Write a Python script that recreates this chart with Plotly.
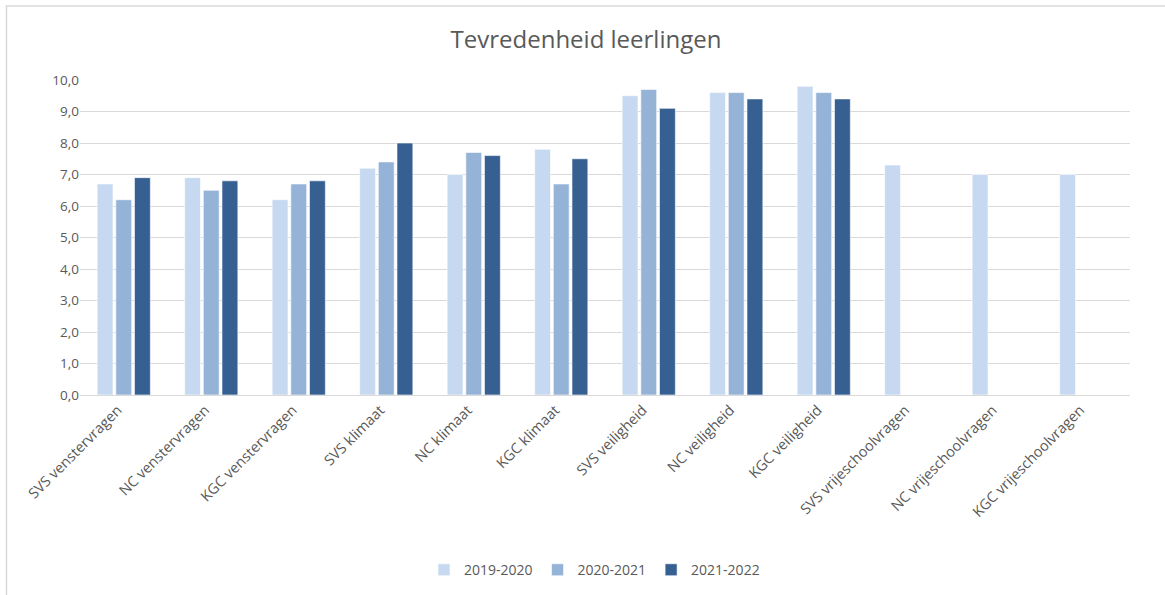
import plotly.graph_objects as go

categories = ["SVS venstervragen", "NC venstervragen", "KGC venstervragen",
              "SVS klimaat", "NC klimaat", "KGC klimaat",
              "SVS veiligheid", "NC veiligheid", "KGC veiligheid",
              "SVS vrijeschoolvragen", "NC vrijeschoolvragen", "KGC vrijeschoolvragen"]
y2019 = [6.7, 6.9, 6.2, 7.2, 7.0, 7.8, 9.5, 9.6, 9.8, 7.3, 7.0, 7.0]
y2020 = [6.2, 6.5, 6.7, 7.4, 7.7, 6.7, 9.7, 9.6, 9.6, None, None, None]
y2021 = [6.9, 6.8, 6.8, 8.0, 7.6, 7.5, 9.1, 9.4, 9.4, None, None, None]
series_names = ["2019-2020", "2020-2021", "2021-2022"]
colors = ["#C6D9F0", "#95B3D7", "#366092"]

fig = go.Figure()
for name, vals, col in zip(series_names, [y2019, y2020, y2021], colors):
    fig.add_trace(go.Bar(x=categories, y=vals, name=name, marker_color=col,
                         marker_line=dict(color="rgba(255,255,255,0.6)", width=1)))

font_family = "Open Sans, Liberation Sans, sans-serif"
fig.update_layout(
    width=1165, height=595,
    margin=dict(l=80, r=35, t=80, b=200, autoexpand=False),
    paper_bgcolor="white", plot_bgcolor="white",
    separators=",.",
    barmode="group", bargap=0.36, bargroupgap=0.15,
    title=dict(text="Tevredenheid leerlingen", x=0.503, xanchor="center", y=0.933, yanchor="middle",
               font=dict(family=font_family, size=24, color="#595959")),
    font=dict(family=font_family, size=13, color="#595959"),
    legend=dict(orientation="h", x=0.49, xanchor="center", y=-0.556, yanchor="middle",
                font=dict(size=14, color="#595959"), itemwidth=30, traceorder="normal"),
    xaxis=dict(tickangle=-45, showgrid=False, showline=True, linecolor="#D9D9D9", linewidth=1,
               ticks="", automargin=False, ticklabelshift=-6,
               tickfont=dict(size=14.5, color="#595959")),
    yaxis=dict(range=[0, 10.0], dtick=1, tickformat=".1f", showgrid=True, gridcolor="#D9D9D9",
               gridwidth=1, zeroline=False, showline=False, ticks="", automargin=False,
               tickfont=dict(size=13.5, color="#595959")),
    shapes=[dict(type="rect", xref="paper", yref="paper", x0=-0.07, x1=2, y0=-2, y1=1.235,
                 line=dict(color="#D9D9D9", width=1.5), fillcolor="rgba(0,0,0,0)", layer="below")],
)
fig.write_html("out.html", config={"displayModeBar": False},
               post_script="document.body.style.margin='0px';document.body.style.overflow='hidden';")
